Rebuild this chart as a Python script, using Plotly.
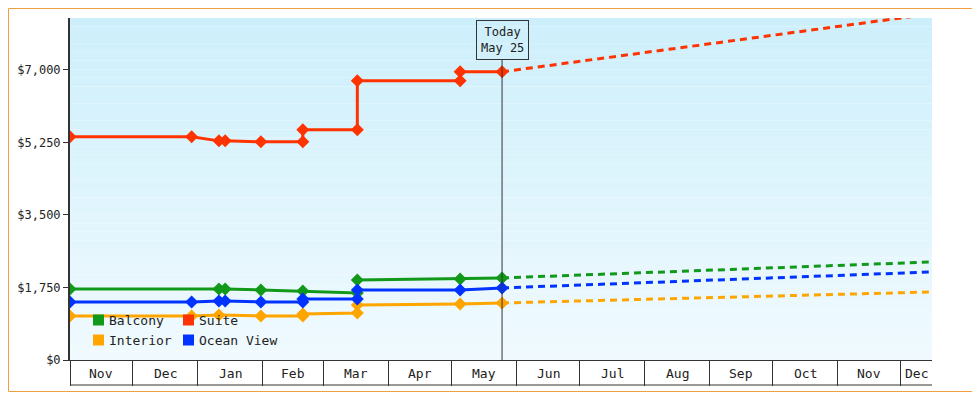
import plotly.graph_objects as go
import pandas as pd

names = ["Balcony", "Suite", "Interior", "Ocean View"]
colors = ["#11991a", "#ff3300", "#ffa500", "#0033ff"]

dates = {
 "Suite": ["2023-11-01","2023-12-29","2024-01-11","2024-01-14","2024-01-31","2024-02-20","2024-02-20","2024-03-17","2024-03-17","2024-05-05","2024-05-05","2024-05-25"],
 "Balcony": ["2023-11-01","2024-01-11","2024-01-14","2024-01-31","2024-02-20","2024-03-17","2024-03-17","2024-05-05","2024-05-25"],
 "Ocean View": ["2023-11-01","2023-12-29","2024-01-11","2024-01-14","2024-01-31","2024-02-20","2024-02-20","2024-03-17","2024-03-17","2024-05-05","2024-05-25"],
 "Interior": ["2023-11-01","2023-12-29","2024-01-11","2024-01-31","2024-02-20","2024-02-20","2024-03-17","2024-03-17","2024-05-05","2024-05-25"],
}
values = {
 "Suite": [5383,5383,5286,5286,5262,5262,5552,5552,6734,6734,6952,6952],
 "Balcony": [1714,1714,1714,1690,1665,1617,1931,1955,1979],
 "Ocean View": [1400,1400,1424,1424,1400,1400,1472,1472,1690,1690,1738],
 "Interior": [1062,1062,1086,1062,1062,1110,1134,1328,1352,1376],
}
proj_dates = ["2024-05-25", "2024-12-16"]
proj_values = {"Suite": [6952, 8352], "Balcony": [1979, 2366],
               "Ocean View": [1738, 2124], "Interior": [1376, 1641]}
y_ticks = [0, 1750, 3500, 5250, 7000]
y_labels = ["$0", "$1,750", "$3,500", "$5,250", "$7,000"]
month_starts = pd.date_range("2023-11-01", "2024-12-01", freq="MS")
x_end = pd.Timestamp("2024-12-16")

fig = go.Figure()
for n, c in zip(names, colors):
    fig.add_trace(go.Scatter(x=proj_dates, y=proj_values[n], mode="lines", showlegend=False,
        line=dict(color=c, width=3, dash="7px,5px"), cliponaxis=False))
for n, c in zip(names, colors):
    fig.add_trace(go.Scatter(x=dates[n], y=values[n], mode="lines+markers", name=n, showlegend=False,
        line=dict(color=c, width=3), marker=dict(color=c, size=10, symbol="diamond")))

shapes = []
N = 40
top, bot = (205, 239, 251), (240, 250, 254)
for i in range(N):
    t = i / (N - 1)
    col = "rgb(%d,%d,%d)" % tuple(round(top[k] + (bot[k] - top[k]) * t) for k in range(3))
    shapes.append(dict(type="rect", xref="paper", yref="paper", x0=0, x1=1,
        y0=1 - (i + 1) / N, y1=1 - i / N, fillcolor=col, line_width=0, layer="below"))
shapes.append(dict(type="line", xref="x", yref="paper", x0="2024-05-25", x1="2024-05-25",
                   y0=0, y1=0.88, line=dict(color="#333", width=1)))
shapes.append(dict(type="line", xref="paper", yref="paper", x0=0, x1=1, y0=-25/342, y1=-25/342,
                   line=dict(color="#333", width=1)))
annotations = [dict(x="2024-05-25", y=0.995, xref="x", yref="paper", yanchor="top",
        text="Today<br>May 25", showarrow=False, bordercolor="#333", borderwidth=1,
        borderpad=4, bgcolor="rgba(0,0,0,0)", font=dict(size=12))]
for i, m in enumerate(month_starts):
    nxt = month_starts[i + 1] if i + 1 < len(month_starts) else x_end
    nxt = min(nxt, x_end)
    mid = m + (nxt - m) / 2
    annotations.append(dict(x=mid, y=-13/342, xref="x", yref="paper", yanchor="middle",
        text=m.strftime("%b"), showarrow=False, font=dict(size=13)))
for i, (n, c) in enumerate(zip(names, colors)):
    col, row = i % 2, i // 2
    x0 = 23 + col * 90
    ypx = 360 - (320 + row * 20)
    shapes.append(dict(type="rect", xref="paper", yref="paper",
        x0=x0/862, x1=(x0+11)/862, y0=(ypx-5.5)/342, y1=(ypx+5.5)/342,
        fillcolor=c, line_width=0))
    annotations.append(dict(x=(x0+14)/862, y=ypx/342, xref="paper", yref="paper",
        xanchor="left", yanchor="middle", text=n, showarrow=False, font=dict(size=13)))

fig.update_layout(
    width=972, height=392, paper_bgcolor="white", plot_bgcolor="rgba(0,0,0,0)",
    margin=dict(l=62, r=48, t=10, b=40, autoexpand=False),
    font=dict(family="DejaVu Sans Mono", size=12, color="#222"),
    shapes=shapes, annotations=annotations, showlegend=False,
    xaxis=dict(range=["2023-11-01", "2024-12-16"], tickvals=list(month_starts),
        showticklabels=False, ticks="outside", ticklen=25, tickcolor="#333",
        showgrid=False, showline=True, linecolor="#333", zeroline=False),
    yaxis=dict(range=[0, 8250], tickvals=y_ticks, ticktext=y_labels, ticks="outside",
        ticklen=5, tickcolor="#333", showgrid=False, showline=True, linecolor="#333", linewidth=2),
)
fig.add_shape(type="rect", xref="paper", yref="paper", x0=-61.5/862, x1=1+47.5/862,
    y0=-31.5/342, y1=1+9.5/342, line=dict(color="#f0a040", width=1))
fig.write_html("out.html")
